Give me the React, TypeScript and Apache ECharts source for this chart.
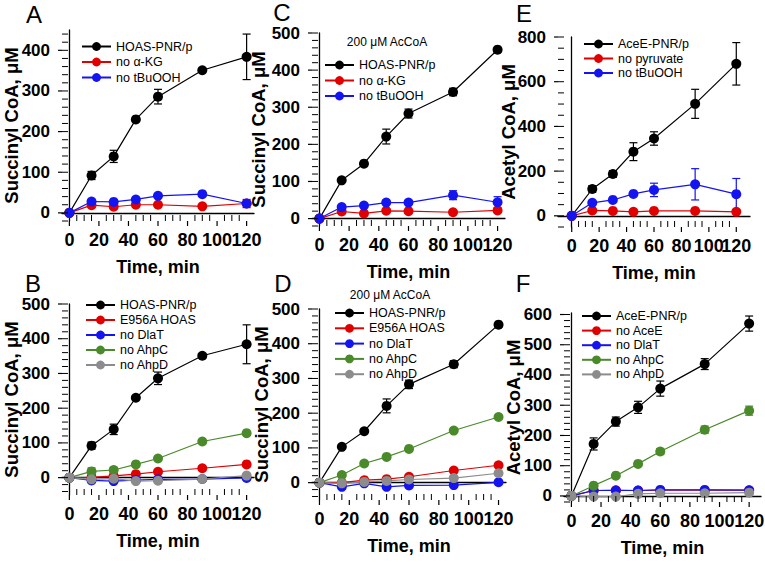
import { useEffect, useRef } from 'react';
import * as echarts from 'echarts';

// ---------- data ----------
const times = [0, 15, 30, 45, 60, 90, 120];
const xTickLabels = [0, 20, 40, 60, 80, 100, 120];

// Panel A
const aHoas = [0, 92, 139, 230, 286, 351, 384];
const aHoasErr = [0, 10, 15, 5, 18, 3, 56];
const aNoAkg = [0, 19, 15, 20, 20, 16, 23];
const aNoTbu = [0, 28, 27, 33, 42, 46, 23];
const aNoTbuErr = [0, 0, 0, 0, 0, 0, 10];

// Panel C
const cHoas = [0, 103, 148, 221, 283, 341, 455];
const cHoasErr = [0, 0, 0, 20, 12, 10, 0];
const cNoAkg = [0, 19, 14, 21, 20, 17, 22];
const cNoTbu = [0, 31, 35, 43, 43, 63, 44];
const cNoTbuErr = [0, 0, 0, 0, 0, 12, 15];

// Panel E
const eAce = [0, 120, 187, 287, 346, 501, 680];
const eAceErr = [0, 15, 15, 40, 30, 65, 95];
const eNoPyr = [0, 24, 22, 18, 22, 22, 18];
const eNoTbu = [0, 58, 71, 98, 116, 141, 97];
const eNoTbuErr = [0, 0, 0, 0, 30, 70, 70];

// Panel B
const bHoas = [0, 92, 139, 230, 286, 351, 384];
const bHoasErr = [0, 10, 15, 5, 18, 3, 56];
const bE956A = [0, 1, 5, 10, 17, 27, 38];
const bNoDlat = [0, -8, -10, -7, -5, -4, -1];
const bNoAhpC = [0, 18, 22, 38, 55, 104, 128];
const bNoAhpCErr = [0, 10, 8, 6, 0, 0, 0];
const bNoAhpD = [0, -5, -3, -10, -9, -4, 6];

// Panel D
const dHoas = [0, 103, 148, 221, 283, 341, 455];
const dHoasErr = [0, 0, 0, 20, 12, 10, 0];
const dE956A = [0, 0, 7, 10, 17, 35, 50];
const dNoDlat = [0, -12, -2, -12, -8, -7, 1];
const dNoAhpC = [0, 22, 55, 74, 97, 150, 189];
const dNoAhpD = [0, -2, 2, 5, 9, 13, 27];

// Panel F
const fAce = [0, 172, 246, 293, 355, 436, 570];
const fAceErr = [0, 20, 15, 20, 25, 18, 25];
const fNoAceE = [0, 18, 19, 18, 19, 19, 19];
const fNoDlat = [0, 18, 18, 18, 20, 20, 19];
const fNoAhpC = [0, 34, 67, 106, 147, 219, 282];
const fNoAhpCErr = [0, 0, 0, 8, 10, 12, 15];
const fNoAhpD = [0, -2, -2, 7, 9, 9, 11];

// ---------- style ----------
const BLACK = '#000000';
const RED = '#e00000';
const BLUE = '#1414f0';
const GREEN = '#4a8a2a';
const GRAY = '#8c8c8c';
const FONT = '"Liberation Sans", Arial, Helvetica, sans-serif';

type S = { name: string; color: string; values: number[]; errors?: number[] };
type P = {
  letter: string; lx: number; ly: number;
  left: number; top: number; width: number; height: number;
  xMin: number; xMax: number; yMin: number; yMax: number;
  yLabelStep: number; yMinorStep: number; yLabelMax: number; yMinorStart: number;
  yName: string; yNameGap: number; legendLeft: number; legendTop: number; legendGap: number;
  note?: { x: number; y: number };
  series: S[];
};

function steps(a: number, b: number, s: number) {
  const out: number[] = [];
  for (let v = a; v <= b + 1e-9; v += s) out.push(Math.round(v * 1000) / 1000);
  return out;
}

const panels: P[] = [
  {
    letter: 'A', lx: 34, ly: 14,
    left: 62, top: 30, width: 192, height: 191,
    xMin: -5, xMax: 125, yMin: -20, yMax: 450, yLabelStep: 100, yMinorStep: 20, yLabelMax: 400, yMinorStart: -20,
    yName: 'Succinyl CoA, μM', yNameGap: 41, legendLeft: 76, legendTop: 34.5, legendGap: 1.5,
    series: [
      { name: 'HOAS-PNR/p', color: BLACK, values: aHoas, errors: aHoasErr },
      { name: 'no α-KG', color: RED, values: aNoAkg },
      { name: 'no tBuOOH', color: BLUE, values: aNoTbu, errors: aNoTbuErr },
    ],
  },
  {
    letter: 'C', lx: 282, ly: 12,
    left: 312, top: 33, width: 193, height: 193,
    xMin: -5, xMax: 125, yMin: -20, yMax: 500, yLabelStep: 100, yMinorStep: 20, yLabelMax: 500, yMinorStart: -20,
    yName: 'Succinyl CoA, μM', yNameGap: 44, legendLeft: 319, legendTop: 53, legendGap: 1.5,
    note: { x: 387, y: 42 },
    series: [
      { name: 'HOAS-PNR/p', color: BLACK, values: cHoas, errors: cHoasErr },
      { name: 'no α-KG', color: RED, values: cNoAkg },
      { name: 'no tBuOOH', color: BLUE, values: cNoTbu, errors: cNoTbuErr },
    ],
  },
  {
    letter: 'E', lx: 524, ly: 13,
    left: 558, top: 37, width: 192, height: 190,
    xMin: -10, xMax: 130, yMin: -50, yMax: 800, yLabelStep: 200, yMinorStep: 50, yLabelMax: 800, yMinorStart: -50,
    yName: 'Acetyl CoA, μM', yNameGap: 40, legendLeft: 578, legendTop: 32, legendGap: 0.5,
    series: [
      { name: 'AceE-PNR/p', color: BLACK, values: eAce, errors: eAceErr },
      { name: 'no pyruvate', color: RED, values: eNoPyr },
      { name: 'no tBuOOH', color: BLUE, values: eNoTbu, errors: eNoTbuErr },
    ],
  },
  {
    letter: 'B', lx: 33, ly: 283,
    left: 62, top: 304, width: 192, height: 191,
    xMin: -5, xMax: 125, yMin: -50, yMax: 500, yLabelStep: 100, yMinorStep: 20, yLabelMax: 500, yMinorStart: -40,
    yName: 'Succinyl CoA, μM', yNameGap: 41, legendLeft: 80, legendTop: 293, legendGap: 1,
    series: [
      { name: 'HOAS-PNR/p', color: BLACK, values: bHoas, errors: bHoasErr },
      { name: 'E956A HOAS', color: RED, values: bE956A },
      { name: 'no DlaT', color: BLUE, values: bNoDlat },
      { name: 'no AhpC', color: GREEN, values: bNoAhpC, errors: bNoAhpCErr },
      { name: 'no AhpD', color: GRAY, values: bNoAhpD },
    ],
  },
  {
    letter: 'D', lx: 283, ly: 283,
    left: 312, top: 309, width: 194, height: 191,
    xMin: -5, xMax: 125, yMin: -50, yMax: 500, yLabelStep: 100, yMinorStep: 20, yLabelMax: 500, yMinorStart: -40,
    yName: 'Succinyl CoA, μM', yNameGap: 41, legendLeft: 329, legendTop: 301, legendGap: 1.3,
    note: { x: 390, y: 295 },
    series: [
      { name: 'HOAS-PNR/p', color: BLACK, values: dHoas, errors: dHoasErr },
      { name: 'E956A HOAS', color: RED, values: dE956A },
      { name: 'no DlaT', color: BLUE, values: dNoDlat },
      { name: 'no AhpC', color: GREEN, values: dNoAhpC },
      { name: 'no AhpD', color: GRAY, values: dNoAhpD },
    ],
  },
  {
    letter: 'F', lx: 523, ly: 283,
    left: 564, top: 313, width: 197, height: 189,
    xMin: -5, xMax: 128, yMin: -20, yMax: 605, yLabelStep: 100, yMinorStep: 20, yLabelMax: 600, yMinorStart: -20,
    yName: 'Acetyl CoA, μM', yNameGap: 41, legendLeft: 576, legendTop: 304, legendGap: 0.6,
    series: [
      { name: 'AceE-PNR/p', color: BLACK, values: fAce, errors: fAceErr },
      { name: 'no AceE', color: RED, values: fNoAceE },
      { name: 'no DlaT', color: BLUE, values: fNoDlat },
      { name: 'no AhpC', color: GREEN, values: fNoAhpC, errors: fNoAhpCErr },
      { name: 'no AhpD', color: GRAY, values: fNoAhpD },
    ],
  },
];

function buildOption() {
  const grid: any[] = [];
  const xAxis: any[] = [];
  const yAxis: any[] = [];
  const series: any[] = [];
  const legend: any[] = [];
  const graphic: any[] = [];

  const xLabelStyle = {
    show: true, margin: 10, color: '#000', fontSize: 18, fontWeight: 'bold',
    fontFamily: FONT, hideOverlap: false,
  };

  panels.forEach((p, i) => {
    grid.push({ left: p.left, top: p.top, width: p.width, height: p.height, containLabel: false, outerBoundsMode: 'none' });
    const lastLabel = xTickLabels[xTickLabels.length - 1];
    xAxis.push({
      type: 'value', gridIndex: i, min: p.xMin, max: p.xMax, position: 'bottom',
      axisLine: { show: true, lineStyle: { color: '#000', width: 1.3 } },
      axisTick: { show: false },
      axisLabel: { ...xLabelStyle, customValues: xTickLabels.slice(0, -1) },
      splitLine: { show: false },
      name: 'Time, min', nameLocation: 'middle', nameGap: 37, nameMoveOverlap: false,
      nameTextStyle: { color: '#000', fontSize: 18, fontWeight: 'bold', fontFamily: FONT },
    });
    // carries the last tick label separately, so that it may touch its neighbour as in the figure
    xAxis.push({
      type: 'value', gridIndex: i, min: p.xMin, max: p.xMax, position: 'bottom', offset: 0,
      axisLine: { show: false },
      axisTick: { show: false },
      axisLabel: { ...xLabelStyle, customValues: [lastLabel] },
      splitLine: { show: false },
    });
    const yMajor = steps(0, p.yLabelMax, p.yLabelStep);
    yAxis.push({
      type: 'value', gridIndex: i, min: p.yMin, max: p.yMax, position: 'left',
      axisLine: { show: true, lineStyle: { color: '#000', width: 1.3 } },
      axisTick: { show: false },
      axisLabel: {
        show: true, customValues: yMajor, margin: 12, color: '#000', fontSize: 17, fontWeight: 'bold',
        fontFamily: FONT, hideOverlap: false,
      },
      splitLine: { show: false },
      name: p.yName, nameLocation: 'middle', nameGap: p.yNameGap, nameRotate: 90, nameMoveOverlap: false,
      nameTextStyle: { color: '#000', fontSize: 18.5, fontWeight: 'bold', fontFamily: FONT },
    });

    const xi = 2 * i;
    // tick marks drawn through the axis scales
    const yTicks = steps(p.yMinorStart, p.yMax, p.yMinorStep).map((v) => [p.xMin, v, yMajor.indexOf(v) >= 0 ? 1 : 0]);
    series.push({
      type: 'custom', name: 'ytick' + i, xAxisIndex: xi, yAxisIndex: i, silent: true, z: 3, clip: false,
      data: yTicks, encode: { x: 0, y: 1 },
      renderItem: (_pa: any, api: any) => {
        const pt = api.coord([api.value(0), api.value(1)]);
        const major = api.value(2) === 1;
        const ch: any[] = [
          { type: 'line', shape: { x1: pt[0], y1: pt[1], x2: pt[0] + 6, y2: pt[1] }, style: { stroke: '#000', lineWidth: 1 } },
        ];
        if (major) ch.push({ type: 'line', shape: { x1: pt[0] - 4, y1: pt[1], x2: pt[0], y2: pt[1] }, style: { stroke: '#000', lineWidth: 1.2 } });
        return { type: 'group', children: ch };
      },
    });
    const xTicks = steps(0, 120, 5).map((t) => [t, p.yMin, xTickLabels.indexOf(t) >= 0 ? 1 : 0]);
    series.push({
      type: 'custom', name: 'xtick' + i, xAxisIndex: xi, yAxisIndex: i, silent: true, z: 3, clip: false,
      data: xTicks, encode: { x: 0, y: 1 },
      renderItem: (_pa: any, api: any) => {
        const pt = api.coord([api.value(0), api.value(1)]);
        const major = api.value(2) === 1;
        const ch: any[] = [];
        if (major) ch.push({ type: 'line', shape: { x1: pt[0], y1: pt[1], x2: pt[0], y2: pt[1] + 5 }, style: { stroke: '#000', lineWidth: 1.2 } });
        else ch.push({ type: 'line', shape: { x1: pt[0], y1: pt[1], x2: pt[0], y2: pt[1] - 6 }, style: { stroke: '#000', lineWidth: 1 } });
        return { type: 'group', children: ch };
      },
    });

    p.series.forEach((s) => {
      const errData = times
        .map((t, k) => ({ t, v: s.values[k], e: s.errors ? s.errors[k] : 0 }))
        .filter((d) => d.e > 0)
        .map((d) => [d.t, d.v - d.e, d.v + d.e]);
      if (errData.length) {
        const col = s.color;
        series.push({
          type: 'custom', name: s.name + ' error', xAxisIndex: xi, yAxisIndex: i, z: 1, clip: false,
          data: errData, encode: { x: 0, y: [1, 2] }, silent: true,
          renderItem: (_params: any, api: any) => {
            const x = api.value(0);
            const hiP = api.coord([x, api.value(2)]);
            const loP = api.coord([x, api.value(1)]);
            const st = { stroke: col, lineWidth: 1.2 };
            return {
              type: 'group',
              children: [
                { type: 'line', shape: { x1: hiP[0], y1: hiP[1], x2: loP[0], y2: loP[1] }, style: st },
                { type: 'line', shape: { x1: hiP[0] - 4, y1: hiP[1], x2: hiP[0] + 4, y2: hiP[1] }, style: st },
                { type: 'line', shape: { x1: loP[0] - 4, y1: loP[1], x2: loP[0] + 4, y2: loP[1] }, style: st },
              ],
            };
          },
        });
      }
      series.push({
        type: 'line', name: s.name, xAxisIndex: xi, yAxisIndex: i, z: 2,
        data: times.map((t, k) => [t, s.values[k]]),
        symbol: 'circle', symbolSize: 10, showSymbol: true,
        lineStyle: { color: s.color, width: 1.2 },
        itemStyle: { color: s.color },
        emphasis: { disabled: true },
      });
    });

    legend.push({
      orient: 'vertical', left: p.legendLeft, top: p.legendTop,
      itemWidth: 29, itemHeight: 11, itemGap: p.legendGap,
      selectedMode: false,
      data: p.series.map((s) => s.name),
      textStyle: { color: '#000', fontSize: 12.5, lineHeight: 14, fontFamily: FONT },
    });

    graphic.push({
      type: 'text', x: p.lx, y: p.ly,
      style: { text: p.letter, fill: '#000', font: `24px ${FONT}`, lineHeight: 22, align: 'center', verticalAlign: 'middle' },
    });
    if (p.note) {
      graphic.push({
        type: 'text', x: p.note.x, y: p.note.y,
        style: { text: '200 μM AcCoA', fill: '#000', font: `12px ${FONT}`, align: 'center', verticalAlign: 'middle' },
      });
    }
  });

  return {
    animation: false,
    backgroundColor: '#ffffff',
    grid, xAxis, yAxis, series, legend, graphic,
  };
}

export default function App() {
  const ref = useRef<HTMLDivElement>(null);
  useEffect(() => {
    if (!ref.current) return;
    const chart = echarts.init(ref.current, undefined, { renderer: 'svg' });
    chart.setOption(buildOption() as any);
    return () => chart.dispose();
  }, []);
  return (
    <div
      ref={ref}
      style={{ position: 'fixed', left: 0, top: 0, width: 765, height: 562, background: '#fff' }}
    />
  );
}
